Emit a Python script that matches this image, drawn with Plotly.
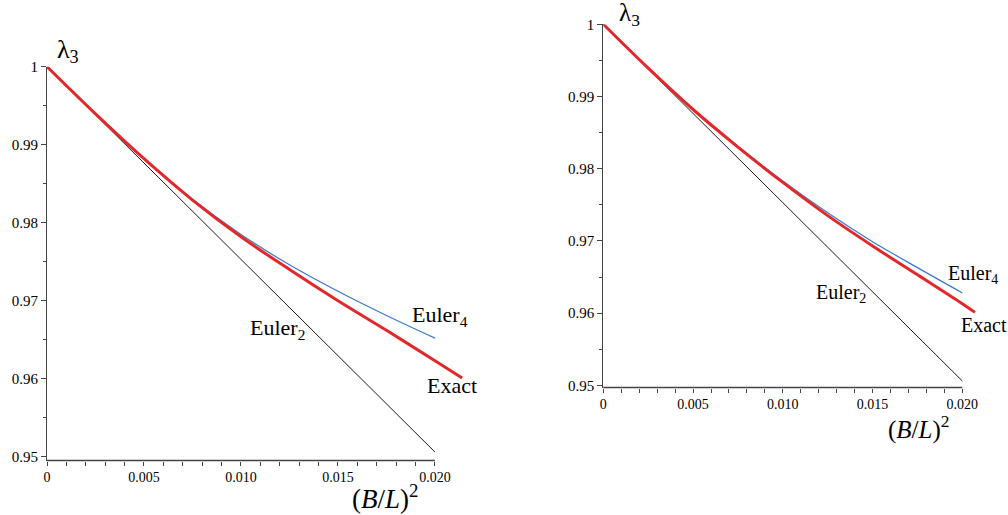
import plotly.graph_objects as go

W, H = 1008, 515
FONT = "Liberation Serif"

# ---- data ----
# left panel
left_x = [0, 0.0025, 0.005, 0.0075, 0.010, 0.0125, 0.015, 0.0175, 0.020]
left_euler4 = [1.0, 0.99395, 0.9882, 0.9830, 0.9785, 0.9746, 0.9712, 0.9681, 0.9652]
left_exact_x = [0, 0.0025, 0.005, 0.0075, 0.010, 0.0125, 0.015, 0.0175, 0.020, 0.0214]
left_exact = [1.0, 0.99395, 0.9882, 0.9829, 0.9782, 0.9740, 0.9700, 0.9662, 0.9623, 0.9601]
left_euler2_x = [0, 0.020]
left_euler2 = [1.0, 0.9506]

# right panel
right_x = [0, 0.0025, 0.005, 0.0075, 0.010, 0.0125, 0.015, 0.0175, 0.020]
right_euler4 = [1.0, 0.99392, 0.9882, 0.9831, 0.9783, 0.9739, 0.9699, 0.9663, 0.9628]
right_exact_x = [0, 0.0025, 0.005, 0.0075, 0.010, 0.0125, 0.015, 0.0175, 0.020, 0.0207]
right_exact = [1.0, 0.99392, 0.9882, 0.9830, 0.9781, 0.9735, 0.9693, 0.9653, 0.9613, 0.9601]
right_euler2_x = [0, 0.020]
right_euler2 = [1.0, 0.9506]

x_major = [0, 0.005, 0.010, 0.015, 0.020]
x_major_text = ["0", "0.005", "0.010", "0.015", "0.020"]
x_minor = [i / 1000 for i in range(21) if i % 5]
y_major = [0.95, 0.96, 0.97, 0.98, 0.99, 1.0]
y_major_text = ["0.95", "0.96", "0.97", "0.98", "0.99", "1"]
y_minor = [0.955, 0.965, 0.975, 0.985, 0.995]

RED = "#e3282c"
BLUE = "#3b78cc"
BLACK = "#1a1a1a"
AXIS = "#444444"

# panel geometry: (x domain, y domain, x range, y range)
left_xdom = [47 / W, 466.0 / W]
left_ydom = [1 - 460.6 / H, 1 - 66.7 / H]
left_xr = [0, 0.0216]
left_yr = [0.9495, 1.0]

right_xdom = [603.3 / W, 978.5 / W]
right_ydom = [1 - 387.5 / H, 1 - 24.3 / H]
right_xr = [0, 0.0209]
right_yr = [0.9497, 1.0]

fig = go.Figure()

def add_panel(xa, ya, e2x, e2, e4x, e4, exx, ex):
    fig.add_trace(go.Scatter(x=e2x, y=e2, mode="lines", xaxis=xa, yaxis=ya,
                             line=dict(color=BLACK, width=1), showlegend=False))
    fig.add_trace(go.Scatter(x=e4x, y=e4, mode="lines", xaxis=xa, yaxis=ya,
                             line=dict(color=BLUE, width=1.2, shape="spline"), showlegend=False))
    fig.add_trace(go.Scatter(x=exx, y=ex, mode="lines", xaxis=xa, yaxis=ya,
                             line=dict(color=RED, width=3, shape="spline"), showlegend=False))

add_panel("x", "y", left_euler2_x, left_euler2, left_x, left_euler4, left_exact_x, left_exact)
add_panel("x2", "y2", right_euler2_x, right_euler2, right_x, right_euler4, right_exact_x, right_exact)

def xaxis(dom, rng, anchor):
    return dict(domain=dom, range=rng, anchor=anchor, automargin=False,
                showgrid=False, zeroline=False, showline=False,
                tickmode="array", tickvals=x_major, ticktext=x_major_text,
                ticks="outside", ticklen=4, tickwidth=1, tickcolor=AXIS,
                minor=dict(tickmode="array", tickvals=x_minor, ticks="outside",
                           ticklen=4, tickwidth=1, tickcolor=AXIS),
                tickfont=dict(family=FONT, size=14, color="black"))

def yaxis(dom, rng, anchor):
    return dict(domain=dom, range=rng, anchor=anchor, automargin=False,
                showgrid=False, zeroline=False,
                showline=True, linecolor=AXIS, linewidth=1,
                tickmode="array", tickvals=y_major, ticktext=y_major_text,
                ticks="outside", ticklen=5, tickwidth=1, tickcolor=AXIS,
                minor=dict(tickmode="array", tickvals=y_minor, ticks="outside",
                           ticklen=3, tickwidth=1, tickcolor=AXIS),
                tickfont=dict(family=FONT, size=15, color="black"))

# x axis lines stop at 0.020 while the exact curve runs a little past it
def axis_line(xdom, xr, ydom):
    x_end = xdom[0] + (0.020 - xr[0]) / (xr[1] - xr[0]) * (xdom[1] - xdom[0])
    return dict(type="line", xref="paper", yref="paper", x0=xdom[0], x1=x_end,
                y0=ydom[0], y1=ydom[0], line=dict(color=AXIS, width=1.5))

def lbl(text, x, y, xref, yref, size, xanchor="left", yanchor="middle"):
    return dict(text=text, x=x, y=y, xref=xref, yref=yref, showarrow=False,
                xanchor=xanchor, yanchor=yanchor,
                font=dict(family=FONT, size=size, color="black"))

bl = "(<i>B</i>/<i>L</i>)<sup>2</sup>"
annotations = [
    lbl("λ<sub>3</sub>", 55 / W, 1 - 51 / H, "paper", "paper", 26),
    lbl(bl, 350 / W, 1 - 497 / H, "paper", "paper", 27),
    lbl("Euler<sub>2</sub>", 0.01036, 0.9664, "x", "y", 22),
    lbl("Euler<sub>4</sub>", 0.01871, 0.9681, "x", "y", 22),
    lbl("Exact", 0.01948, 0.9591, "x", "y", 22),
    lbl("λ<sub>3</sub>", 617 / W, 1 - 14 / H, "paper", "paper", 25),
    lbl(bl, 886 / W, 1 - 427 / H, "paper", "paper", 25),
    lbl("Euler<sub>2</sub>", 0.01174, 0.9627, "x2", "y2", 20),
    lbl("Euler<sub>4</sub>", 0.01907, 0.9653, "x2", "y2", 20),
    lbl("Exact", 0.01982, 0.95835, "x2", "y2", 20),
]

fig.update_layout(
    width=W, height=H,
    margin=dict(l=0, r=0, t=0, b=0, autoexpand=False),
    paper_bgcolor="white", plot_bgcolor="white",
    showlegend=False,
    xaxis=xaxis(left_xdom, left_xr, "y"),
    yaxis=yaxis(left_ydom, left_yr, "x"),
    xaxis2=xaxis(right_xdom, right_xr, "y2"),
    yaxis2=yaxis(right_ydom, right_yr, "x2"),
    shapes=[axis_line(left_xdom, left_xr, left_ydom),
            axis_line(right_xdom, right_xr, right_ydom)],
    annotations=annotations,
)

# drop the default page margin so the figure sits at the window's top-left corner
fig.write_html("out.html", config={"displayModeBar": False},
               post_script="document.body.style.margin='0px'; document.body.style.overflow='hidden';")
